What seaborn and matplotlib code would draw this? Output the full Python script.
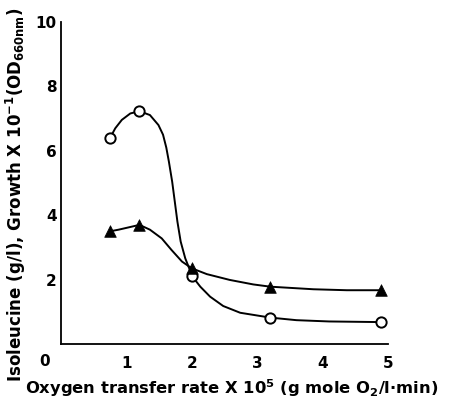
import numpy as np
import pandas as pd
import matplotlib
matplotlib.use("Agg")
import matplotlib.pyplot as plt
import seaborn as sns

# Measured points (marker positions)
oxygen_rate = [0.75, 1.2, 2.0, 3.2, 4.9]
circle_vals = [6.4, 7.23, 2.12, 0.82, 0.68]
triangle_vals = [3.5, 3.7, 2.35, 1.78, 1.67]

# Hand-drawn smooth curves
circle_curve_x = [0.75, 0.83, 0.93, 1.06, 1.2, 1.36, 1.49, 1.56, 1.61, 1.65, 1.70, 1.74, 1.78,
                  1.83, 1.90, 1.97, 2.0, 2.13, 2.28, 2.48, 2.74, 3.2, 3.6, 4.1, 4.9]
circle_curve_y = [6.4, 6.7, 6.96, 7.16, 7.23, 7.11, 6.8, 6.5, 6.1, 5.66, 5.04, 4.42, 3.8,
                  3.18, 2.66, 2.3, 2.12, 1.78, 1.47, 1.18, 0.97, 0.82, 0.74, 0.70, 0.68]
triangle_curve_x = [0.75, 0.88, 1.03, 1.2, 1.36, 1.54, 1.69, 1.85, 2.0, 2.23, 2.58, 2.94,
                    3.2, 3.86, 4.37, 4.9]
triangle_curve_y = [3.5, 3.55, 3.62, 3.7, 3.55, 3.28, 2.92, 2.56, 2.35, 2.17, 1.99, 1.85,
                    1.78, 1.70, 1.67, 1.67]

x_ticks = [1, 2, 3, 4, 5]
y_ticks = [2, 4, 6, 8, 10]

sns.set_style("white")
plt.rcParams['font.family'] = ['DejaVu Sans']
plt.rcParams['font.weight'] = 'bold'
plt.rcParams['text.color'] = 'black'
plt.rcParams['axes.labelcolor'] = 'black'
plt.rcParams['mathtext.fontset'] = 'custom'
plt.rcParams['mathtext.rm'] = 'DejaVu Sans:bold'
plt.rcParams['mathtext.bf'] = 'DejaVu Sans:bold'
plt.rcParams['mathtext.default'] = 'bf'

fig = plt.figure(figsize=(4.5, 4.03), dpi=100)
ax = fig.add_axes([61/450, 59/403, 327/450, 322/403])

pts = pd.DataFrame({"x": oxygen_rate, "circ": circle_vals, "tri": triangle_vals})
cc = pd.DataFrame({"x": circle_curve_x, "y": circle_curve_y})
tc = pd.DataFrame({"x": triangle_curve_x, "y": triangle_curve_y})

sns.lineplot(data=cc, x="x", y="y", sort=False, estimator=None, color="black", lw=1.4, ax=ax)
sns.lineplot(data=tc, x="x", y="y", sort=False, estimator=None, color="black", lw=1.4, ax=ax)
sns.scatterplot(data=pts, x="x", y="circ", marker="o", s=55, facecolor="white",
                edgecolor="black", linewidth=1.4, zorder=5, ax=ax)
sns.scatterplot(data=pts, x="x", y="tri", marker="^", s=70, color="black",
                edgecolor="black", linewidth=0.5, zorder=5, ax=ax)

ax.set_xlim(0, 5)
ax.set_ylim(0, 10)
ax.set_xticks(x_ticks)
ax.set_yticks(y_ticks)
ax.set_xticklabels([str(t) for t in x_ticks])
ax.set_yticklabels([str(t) for t in y_ticks])
ax.tick_params(direction="in", length=4, width=1, colors="black", labelsize=11, pad=9)
ax.tick_params(axis="y", pad=3)
for s in ["top", "right"]:
    ax.spines[s].set_visible(False)
for s in ["left", "bottom"]:
    ax.spines[s].set_color("black")
    ax.spines[s].set_linewidth(1.3)

fig.text(45/450, 1 - 362/403, "0", ha="center", va="center", fontsize=11,
         fontweight="bold", color="black")

ax.set_xlabel(r"Oxygen transfer rate X 10$^{5}$ (g mole O$_{2}$/l$\cdot$min)", fontsize=11.8,
              fontweight="bold", color="black")
ax.xaxis.set_label_coords(0.523, -0.103)
ax.set_ylabel(r"Isoleucine (g/l), Growth X 10$^{-1}$(OD$_{660nm}$)", fontsize=12,
              fontweight="bold", color="black")
ax.yaxis.set_label_coords(-0.1, 0.463)

fig.savefig("out.png", dpi=100, facecolor="white")
